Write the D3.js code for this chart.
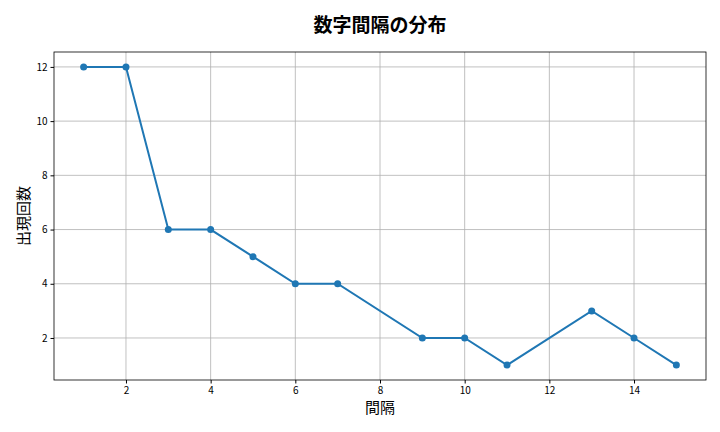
<!DOCTYPE html>
<html><head><meta charset="utf-8">
<script src="https://cdn.jsdelivr.net/npm/d3@7"></script>
<style>body{margin:0;background:#fff}text{font-family:"Noto Sans CJK JP","DejaVu Sans",sans-serif}</style>
</head><body><svg id="c" width="720" height="432"></svg>
<script>
const gaps = [1, 2, 3, 4, 5, 6, 7, 9, 10, 11, 13, 14, 15];
const counts = [12, 12, 6, 6, 5, 4, 4, 2, 2, 1, 3, 2, 1];
const xTicks = [2, 4, 6, 8, 10, 12, 14];
const yTicks = [2, 4, 6, 8, 10, 12];

const svg = d3.select('#c');
const m = {left: 54, right: 706, top: 52, bottom: 380};
const x = d3.scaleLinear().domain([0.3, 15.7]).range([m.left, m.right]);
const y = d3.scaleLinear().domain([0.45, 12.55]).range([m.bottom, m.top]);

const grid = svg.append('g').attr('stroke', '#b0b0b0').attr('stroke-width', 0.8);
xTicks.forEach(t => grid.append('line').attr('x1', x(t)).attr('x2', x(t)).attr('y1', m.top).attr('y2', m.bottom));
yTicks.forEach(t => grid.append('line').attr('y1', y(t)).attr('y2', y(t)).attr('x1', m.left).attr('x2', m.right));

const xa = svg.append('g').attr('transform', `translate(0,${m.bottom})`)
  .call(d3.axisBottom(x).tickValues(xTicks).tickSize(3.5).tickPadding(3));
const ya = svg.append('g').attr('transform', `translate(${m.left},0)`)
  .call(d3.axisLeft(y).tickValues(yTicks).tickSize(3.5).tickPadding(3));
[xa, ya].forEach(a => { a.select('.domain').remove(); a.selectAll('text').style('font-size', '10px').attr('fill', '#000'); });

svg.append('rect').attr('x', m.left).attr('y', m.top).attr('width', m.right - m.left)
  .attr('height', m.bottom - m.top).attr('fill', 'none').attr('stroke', '#000').attr('stroke-width', 0.8);

const pts = gaps.map((g, i) => [g, counts[i]]);
svg.append('path').datum(pts).attr('fill', 'none').attr('stroke', '#1f77b4').attr('stroke-width', 2)
  .attr('d', d3.line().x(d => x(d[0])).y(d => y(d[1])));
svg.selectAll('circle').data(pts).enter().append('circle')
  .attr('cx', d => x(d[0])).attr('cy', d => y(d[1])).attr('r', 3.5).attr('fill', '#1f77b4');

svg.append('text').attr('x', (m.left + m.right) / 2).attr('y', 32).attr('text-anchor', 'middle')
  .style('font-size', '19px').style('font-weight', 'bold').text('数字間隔の分布');
svg.append('text').attr('x', (m.left + m.right) / 2).attr('y', 413).attr('text-anchor', 'middle')
  .style('font-size', '15px').text('間隔');
svg.append('text').attr('transform', `translate(29,${(m.top + m.bottom) / 2}) rotate(-90)`)
  .attr('text-anchor', 'middle').style('font-size', '15px').text('出現回数');
</script></body></html>
